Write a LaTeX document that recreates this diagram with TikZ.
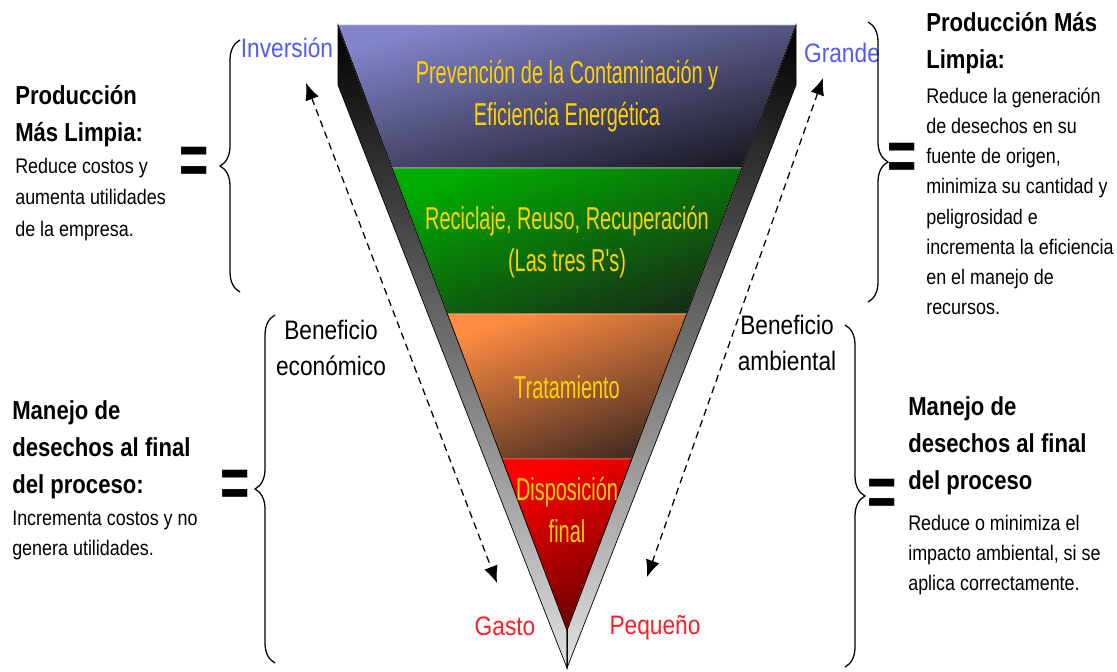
\documentclass[tikz,border=0pt]{standalone}
\usepackage{fontspec}
\usepackage{graphicx}
\setmainfont{Liberation Sans}[FakeStretch=0.85]
\newfontfamily\funnelfont{Liberation Sans}[FakeStretch=0.63]
\newfontfamily\eqfont{Liberation Sans}
\usepackage{tikz}
\usetikzlibrary{calc,arrows.meta,decorations.pathreplacing}
\usetikzlibrary{positioning}

\definecolor{labelblue}{RGB}{80,90,255}
\definecolor{labelred}{RGB}{255,30,40}
\definecolor{layertext}{RGB}{255,210,0}

\tikzstyle{heading} = [font=\fontsize{18.5}{26.5}\selectfont\bfseries, align=left, inner sep=0pt]
\tikzstyle{body} = [font=\fontsize{15}{21.5}\selectfont, align=left, inner sep=0pt]
\tikzstyle{layer} = [font=\funnelfont\fontsize{22.5}{30}\selectfont, text=layertext, align=center, inner sep=0pt]
\tikzstyle{endlabel} = [font=\fontsize{19}{23}\selectfont, inner sep=0pt]
\tikzstyle{gain} = [font=\fontsize{19}{25.5}\selectfont, align=center, inner sep=0pt]
\tikzstyle{equal} = [font=\eqfont\bfseries\fontsize{34}{34}\selectfont, inner sep=0pt]
\tikzstyle{bracket} = [decorate, decoration={brace, amplitude=0.5cm}, line width=0.9pt]
\tikzstyle{bevel} = [draw=black, line width=0.5pt, top color=black, middle color=black!67, bottom color=black!12]
\tikzstyle{flow} = [dash pattern=on 5pt off 3.5pt, line width=0.9pt, {Latex[length=12pt,width=10pt]}-{Latex[length=12pt,width=10pt]}]

\newcommand{\tallEq}{\scalebox{1.05}[1.5]{=}}

\begin{document}
\begin{tikzpicture}[x=0.025cm, y=-0.025cm]
   \useasboundingbox (0,0) rectangle (1117,671);
   \fill[white] (0,0) rectangle (1117,671);

   % Funnel corners
   \coordinate (tl) at (338,25);
   \coordinate (tr) at (796,25);
   \coordinate (tip) at (567,630);
   \coordinate (ol) at (338,85);
   \coordinate (or) at (796,85);
   \coordinate (otip) at (567,668);
   \coordinate (l1) at ($(tl)!0.2364!(tip)$);
   \coordinate (r1) at ($(tr)!0.2364!(tip)$);
   \coordinate (l2) at ($(tl)!0.4777!(tip)$);
   \coordinate (r2) at ($(tr)!0.4777!(tip)$);
   \coordinate (l3) at ($(tl)!0.7174!(tip)$);
   \coordinate (r3) at ($(tr)!0.7174!(tip)$);

   \draw[bevel] (tl) -- (ol) -- (otip) -- (tip) -- cycle;
   \draw[bevel] (tr) -- (or) -- (otip) -- (tip) -- cycle;

   \draw[draw=black!25, line width=0.6pt, top color={rgb,255:red,132;green,132;blue,204}, middle color={rgb,255:red,108;green,108;blue,172}, bottom color={rgb,255:red,28;green,28;blue,40}, shading angle=15] (tl) -- (tr) -- (r1) -- (l1) -- cycle;
   \draw[draw=black!25, line width=0.6pt, top color={rgb,255:red,0;green,172;blue,0}, middle color={rgb,255:red,0;green,150;blue,0}, bottom color={rgb,255:red,22;green,48;blue,22}, shading angle=20] (l1) -- (r1) -- (r2) -- (l2) -- cycle;
   \draw[draw=orange!60, line width=0.6pt, top color={rgb,255:red,255;green,140;blue,66}, middle color={rgb,255:red,228;green,124;blue,58}, bottom color={rgb,255:red,70;green,44;blue,34}, shading angle=20] (l2) -- (r2) -- (r3) -- (l3) -- cycle;
   \draw[draw=red!70, line width=0.6pt, top color={rgb,255:red,255;green,0;blue,0}, middle color={rgb,255:red,215;green,0;blue,0}, bottom color={rgb,255:red,105;green,0;blue,0}, shading angle=25] (l3) -- (r3) -- (tip) -- cycle;
   \draw[line width=0.6pt] (tl) -- (tip) -- (tr);
   \draw[line width=0.6pt] (tip) -- (otip);

   % Place nodes
   \node[layer] (prev) at (567,96) {Prevención de la Contaminación y\\Eficiencia Energética};
   \node[layer] (recy) at (567,242) {Reciclaje, Reuso, Recuperación\\(Las tres R's)};
   \node[layer] (trat) at (567,387) {Tratamiento};
   \node[layer] (disp) at (567,510) {Disposición\\final};

   \node[endlabel, text=labelblue] (inv) at (287,48) {Inversión};
   \node[endlabel, text=labelblue] (gran) at (842,53) {Grande};
   \node[endlabel, text=labelred] (gasto) at (505,626) {Gasto};
   \node[endlabel, text=labelred] (peq) at (655,628) {Pequeño};

   \node[gain] (beco) at (331,348) {Beneficio\\económico};
   \node[gain] (bamb) at (787,343) {Beneficio\\ambiental};

   \node[heading, anchor=west] (hdTL) at (15,116) {Producción\\Más Limpia:};
   \node[body, below right=0.27cm and 0cm of hdTL.south west, font=\fontsize{15}{22.3}\selectfont] (bdTL) {Reduce costos y\\aumenta utilidades\\de la empresa.};
   \node[heading, anchor=west] (hdTR) at (926,43) {Producción Más\\Limpia:};
   \node[body, below right=0.33cm and 0cm of hdTR.south west] (bdTR) {Reduce la generación\\de desechos en su\\fuente de origen,\\minimiza su cantidad y\\peligrosidad e\\incrementa la eficiencia\\en el manejo de\\recursos.};
   \node[heading, anchor=west] (hdBL) at (12,450) {Manejo de\\desechos al final\\del proceso:};
   \node[body, below right=0.27cm and 0cm of hdBL.south west] (bdBL) {Incrementa costos y no\\genera utilidades.};
   \node[heading, anchor=west] (hdBR) at (908,446) {Manejo de\\desechos al final\\del proceso};
   \node[body, below right=0.48cm and 0cm of hdBR.south west] (bdBR) {Reduce o minimiza el\\impacto ambiental, si se\\aplica correctamente.};

   \node[equal] (eqTL) at (194,166) {\tallEq};
   \node[equal] (eqBL) at (235,489) {\tallEq};
   \node[equal] (eqTR) at (902,162) {\tallEq};
   \node[equal] (eqBR) at (882,498) {\tallEq};

   % Braces
   \coordinate (brTLa) at (240,292);
   \coordinate (brTLb) at (240,40);
   \coordinate (brBLa) at (275,663);
   \coordinate (brBLb) at (275,315);
   \coordinate (brTRa) at (868,22);
   \coordinate (brTRb) at (868,302);
   \coordinate (brBRa) at (845,325);
   \coordinate (brBRb) at (845,667);
   \draw[bracket] (brTLa) -- (brTLb);
   \draw[bracket] (brBLa) -- (brBLb);
   \draw[bracket] (brTRa) -- (brTRb);
   \draw[bracket] (brBRa) -- (brBRb);

   % Dashed arrows
   \coordinate (ecoTop) at (306,83);
   \coordinate (ecoEnd) at (497,583);
   \coordinate (ambTop) at (823,78);
   \coordinate (ambEnd) at (647,577);
   \draw[flow] (ecoTop) -- (ecoEnd);
   \draw[flow] (ambTop) -- (ambEnd);

\end{tikzpicture}
\end{document}
